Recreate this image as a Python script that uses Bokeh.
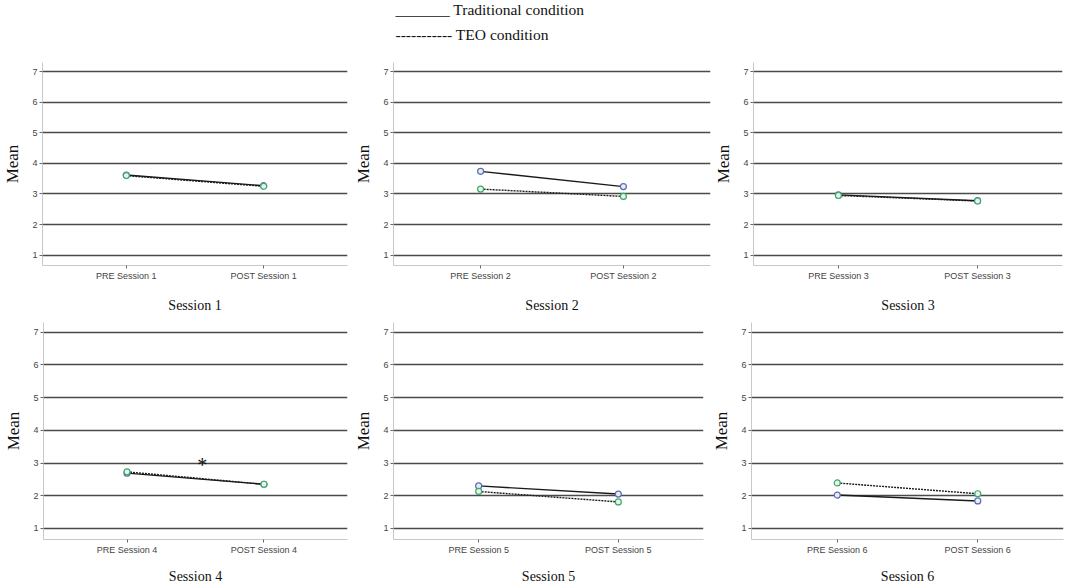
from bokeh.plotting import figure
from bokeh.layouts import column, row
from bokeh.models import Range1d, FixedTicker
from bokeh.core.properties import value
from bokeh.embed import file_html
from bokeh.resources import INLINE

# ---- data ----
sessions = ["Session 1", "Session 2", "Session 3", "Session 4", "Session 5", "Session 6"]
pre_labels = ["PRE Session 1", "PRE Session 2", "PRE Session 3",
              "PRE Session 4", "PRE Session 5", "PRE Session 6"]
post_labels = ["POST Session 1", "POST Session 2", "POST Session 3",
               "POST Session 4", "POST Session 5", "POST Session 6"]
traditional_pre = [3.62, 3.74, 2.97, 2.69, 2.30, 2.02]
traditional_post = [3.27, 3.24, 2.78, 2.35, 2.05, 1.84]
teo_pre = [3.60, 3.16, 2.95, 2.73, 2.13, 2.39]
teo_post = [3.25, 2.92, 2.77, 2.35, 1.81, 2.06]
y_ticks = [1, 2, 3, 4, 5, 6, 7]
legend_lines = ["_______ Traditional condition", "----------- TEO condition"]
significant_sessions = [3]  # index of session marked with *

SERIF = "Liberation Serif"
SANS = "Liberation Sans"

# ---- header (legend text) ----
header = figure(width=1065, height=54, x_range=Range1d(0, 1065), y_range=Range1d(54, 0),
                x_axis_type=None, y_axis_type=None, output_backend="svg",
                toolbar_location=None, min_border=0)
header.outline_line_color = None
header.xgrid.visible = False
header.ygrid.visible = False
header.text(x=[395, 395], y=[9, 34], text=legend_lines,
            text_font=value(SERIF), text_font_size="15.5px", text_color="#111111",
            text_align="left", text_baseline="alphabetic")

# geometry: (width, height, left, right, top, bottom)
geoms = [
    (351, 264, 42, 4, 8, 53),
    (360, 264, 41, 1, 8, 53),
    (354, 264, 41, 3, 8, 53),
    (351, 268, 43, 4, 4, 46),
    (358, 268, 41, 6, 4, 46),
    (356, 268, 41, 2, 4, 46),
]


def panel(i):
    w, h, l, r, t, b = geoms[i]
    p = figure(width=w, height=h, x_range=Range1d(0.39, 2.61), y_range=Range1d(0.66, 7.3),
               output_backend="svg", toolbar_location=None,
               min_border_left=l, min_border_right=r, min_border_top=t, min_border_bottom=b)
    p.outline_line_color = None
    p.background_fill_color = "white"
    p.border_fill_color = "white"

    x = [1, 2]
    trad = [traditional_pre[i], traditional_post[i]]
    teo = [teo_pre[i], teo_post[i]]
    p.line(x, trad, line_color="#1a1a1a", line_width=1.4)
    p.line(x, teo, line_color="#1a1a1a", line_width=1.4, line_dash="2 1")
    p.scatter(x, trad, marker="circle", size=6, line_color="#5b6bb5",
              fill_color="#e8ecf6", line_width=1.2)
    p.scatter(x, teo, marker="circle", size=6, line_color="#3ca86a",
              fill_color="#e6f4ec", line_width=1.2)

    if i in significant_sessions:
        p.text(x=[1.55], y=[2.93], text=["*"], text_font=value(SERIF),
               text_font_size="20px", text_color="#111111",
               text_align="center", text_baseline="alphabetic")

    # grid
    p.xgrid.visible = False
    p.ygrid.ticker = FixedTicker(ticks=y_ticks)
    p.ygrid.grid_line_color = "#4a4a4a"
    p.ygrid.grid_line_width = 1.5

    # x axis
    p.xaxis.ticker = FixedTicker(ticks=[1, 2])
    p.xaxis.major_label_overrides = {1: pre_labels[i], 2: post_labels[i]}
    p.xaxis.axis_label = sessions[i]
    p.xaxis.axis_label_standoff = 14 if i < 3 else 11
    # y axis
    p.yaxis.ticker = FixedTicker(ticks=y_ticks)
    p.yaxis.axis_label = "Mean"
    p.yaxis.axis_label_standoff = 7

    for ax in (p.xaxis[0], p.yaxis[0]):
        ax.axis_line_color = "#c8c8c8"
        ax.axis_line_width = 1
        ax.major_tick_line_color = "#666666"
        ax.major_tick_in = 0
        ax.major_tick_out = 3
        ax.minor_tick_line_color = None
        ax.major_label_standoff = 2
        ax.major_label_text_font = SANS
        ax.major_label_text_font_size = "9px"
        ax.major_label_text_color = "#444444"
        ax.axis_label_text_font = SERIF
        ax.axis_label_text_font_style = "normal"
        ax.axis_label_text_color = "#111111"
    p.xaxis.axis_label_text_font_size = "14px"
    p.yaxis.axis_label_text_font_size = "17px"
    return p


panels = [panel(i) for i in range(6)]
layout = column(header, row(*panels[:3]), row(*panels[3:]))

open("out.html", "w").write(file_html(layout, INLINE))
